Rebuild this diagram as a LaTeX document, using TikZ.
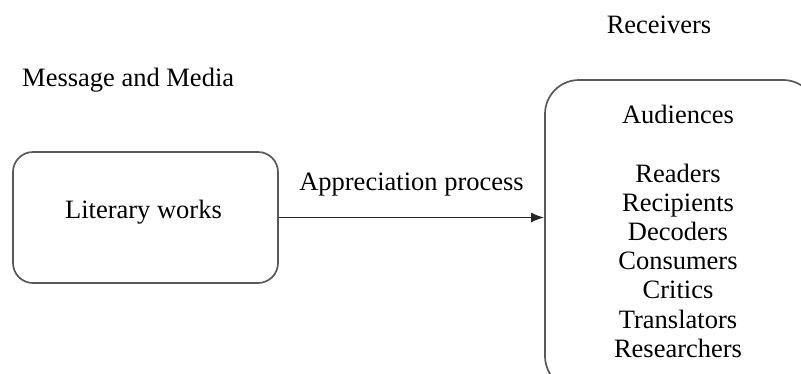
\documentclass[tikz,border=0pt]{standalone}
\usepackage{fontspec}
\setmainfont{Liberation Serif}
\usetikzlibrary{arrows.meta}

\begin{document}
\begin{tikzpicture}[x=1pt,y=-1pt,
  every node/.style={font=\fontsize{26.5}{29}\selectfont, inner sep=0pt},
  label text/.style={anchor=base},
  roundbox/.style={draw=black!65, line width=1.7pt, rounded corners=20pt},
  flow/.style={draw=black!85, line width=1.5pt, -{Latex[length=13pt,width=10pt]}}
]
  \useasboundingbox (0,0) rectangle (801,373);
  \clip (0,0) rectangle (801,373);

  % section headings
  \node[label text, anchor=base west] (media) at (22,86) {Message and Media};
  \node[label text] (recv) at (659,33) {Receivers};

  % sender side
  \node[roundbox, minimum width=265pt, minimum height=131pt] (lit) at (145.5,217.5) {};
  \node[label text] (littext) at (143.5,218) {Literary works};

  % receiver side (box runs past the right and bottom edges)
  \node[roundbox, rounded corners=34pt, minimum width=272pt, minimum height=310pt] (aud) at (681,235) {};
  \node[label text] (audtitle) at (678,123) {Audiences};
  \foreach \w [count=\i] in {Readers,Recipients,Decoders,Consumers,Critics,Translators,Researchers}
    \node[label text] (r\i) at (678,152.8+29.2*\i) {\w};

  % connector
  \draw[flow] (lit.east) -- (lit.east -| aud.west)
    node[midway, label text, yshift=27.5pt] (proc) {Appreciation process};
\end{tikzpicture}
\end{document}
